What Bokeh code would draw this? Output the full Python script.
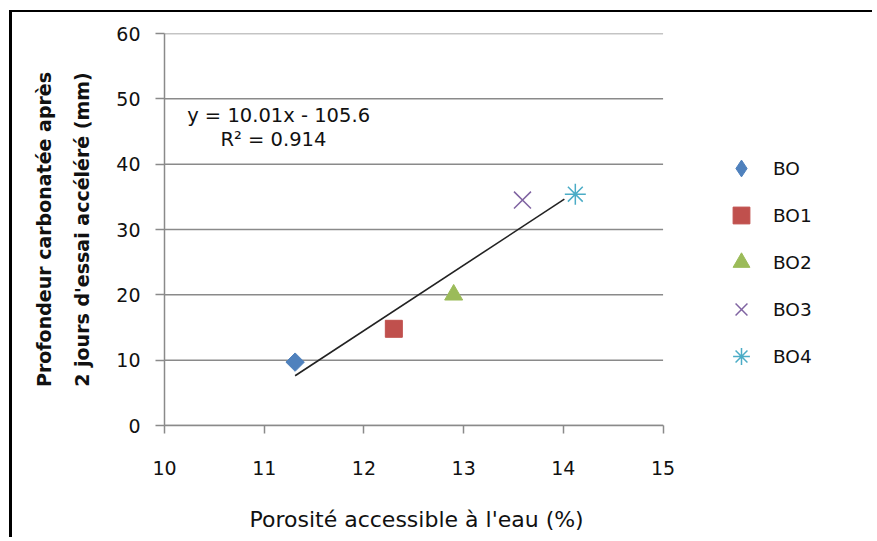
import math
from bokeh.plotting import figure
from bokeh.models import Range1d, Legend, LegendItem, Label, ColumnDataSource, Title
from bokeh.embed import file_html
from bokeh.resources import INLINE

# ---- data ----
series = ["BO", "BO1", "BO2", "BO3", "BO4"]
porosite = [11.31, 12.30, 12.90, 13.59, 14.12]
profondeur = [9.7, 14.8, 20.0, 34.5, 35.4]
marker_types = ["square", "square", "triangle", "x", "asterisk"]
legend_markers = ["diamond", "square", "triangle", "x", "asterisk"]
marker_angles = [math.pi / 4, 0, 0, 0, 0]
marker_sizes = [13, 17, 18, 24, 21]
colors = ["#4F81BD", "#C0504D", "#9BBB59", "#8064A2", "#4BACC6"]
slope = 10.01
intercept = -105.6
r2 = 0.914
trend_x = [11.31, 14.01]
x_ticks = [10, 11, 12, 13, 14, 15]
y_ticks = [0, 10, 20, 30, 40, 50, 60]
x_title = "Porosité accessible  à l'eau (%)"
y_title = "Profondeur carbonatée après\n2 jours d'essai accéléré (mm)"

FONT = "DejaVu Sans"
GRID = "#8a8a8a"
TXT = "#111111"

# frame extends to the right of the axis so the legend can sit inside it
p = figure(width=863, height=527, output_backend="svg", toolbar_location=None,
           x_range=Range1d(10, 17), y_range=Range1d(0, 60),
           min_border_left=152, min_border_right=13,
           min_border_top=21, min_border_bottom=114)
p.styles = {"border-left": "3px solid black", "border-top": "2px solid black",
            "margin-left": "9px", "margin-top": "10px"}
p.outline_line_color = None
p.background_fill_color = "white"
p.border_fill_color = "white"

p.xgrid.visible = False
p.ygrid.visible = False
# horizontal gridlines limited to the axis extent
p.segment(x0=[x_ticks[0]] * len(y_ticks), x1=[x_ticks[-1]] * len(y_ticks),
          y0=y_ticks, y1=y_ticks, line_color=GRID, line_width=1.5, level="underlay")

for ax in (p.xaxis[0], p.yaxis[0]):
    ax.axis_line_color = GRID
    ax.axis_line_width = 1.5
    ax.major_tick_line_color = GRID
    ax.major_tick_line_width = 1.5
    ax.major_tick_in = 0
    ax.minor_tick_line_color = None
    ax.major_label_text_font = FONT
    ax.major_label_text_font_size = "19px"
    ax.major_label_text_color = TXT
    ax.axis_label_text_font = FONT
    ax.axis_label_text_color = TXT

p.xaxis.ticker = x_ticks
p.xaxis.bounds = (x_ticks[0], x_ticks[-1])
p.yaxis.ticker = y_ticks
p.xaxis.major_tick_out = 8
p.yaxis.major_tick_out = 9
p.xaxis.major_label_standoff = 27
p.yaxis.major_label_standoff = 15
# blank spacer label so the title below sits lower
p.xaxis.axis_label = " "
p.xaxis.axis_label_text_font_size = "12px"
p.xaxis.axis_label_standoff = 2

p.yaxis.axis_label = y_title
p.yaxis.axis_label_text_font_size = "19px"
p.yaxis.axis_label_text_font_style = "bold"
p.yaxis.axis_label_text_line_height = 1.75
p.yaxis.axis_label_standoff = 20

# x-axis title, centred under the 10..15 axis span
p.add_layout(Title(text=x_title, align="left", offset=85, standoff=16,
                   vertical_align="bottom",
                   text_font=FONT, text_font_size="22px", text_font_style="normal",
                   text_color=TXT), "below")

# trend line
trend_y = [slope * x + intercept for x in trend_x]
p.line(trend_x, trend_y, line_color="#222222", line_width=1.6)

items = []
for i, name in enumerate(series):
    src = ColumnDataSource(dict(x=[porosite[i]], y=[profondeur[i]]))
    lw = 1.5 if marker_types[i] in ("x", "asterisk") else 1
    r = p.scatter("x", "y", source=src, marker=marker_types[i], size=marker_sizes[i],
                  angle=marker_angles[i], fill_color=colors[i], line_color=colors[i],
                  line_width=lw)
    if legend_markers[i] != marker_types[i]:
        # legend swatch only (legend swatches are drawn unrotated)
        r = p.scatter(x=[float("nan")], y=[float("nan")], marker=legend_markers[i],
                      fill_color=colors[i], line_color=colors[i], line_width=lw)
    items.append(LegendItem(label=name, renderers=[r]))

legend = Legend(items=items, location=(556, 48), glyph_width=42, glyph_height=42,
                label_height=42, spacing=5, label_standoff=11, padding=0, margin=0,
                border_line_color=None, background_fill_alpha=0,
                label_text_font=FONT, label_text_font_size="18.5px",
                label_text_color=TXT)
p.add_layout(legend)

eq1 = Label(x=10.227, y=47.4, text=f"y = {slope}x - {abs(intercept)}", text_baseline="middle",
            text_font=FONT, text_font_size="19.5px", text_color=TXT)
eq2 = Label(x=10.561, y=43.7, text=f"R² = {r2}", text_baseline="middle",
            text_font=FONT, text_font_size="19.5px", text_color=TXT)
p.add_layout(eq1)
p.add_layout(eq2)

open("out.html", "w").write(file_html(p, INLINE))
